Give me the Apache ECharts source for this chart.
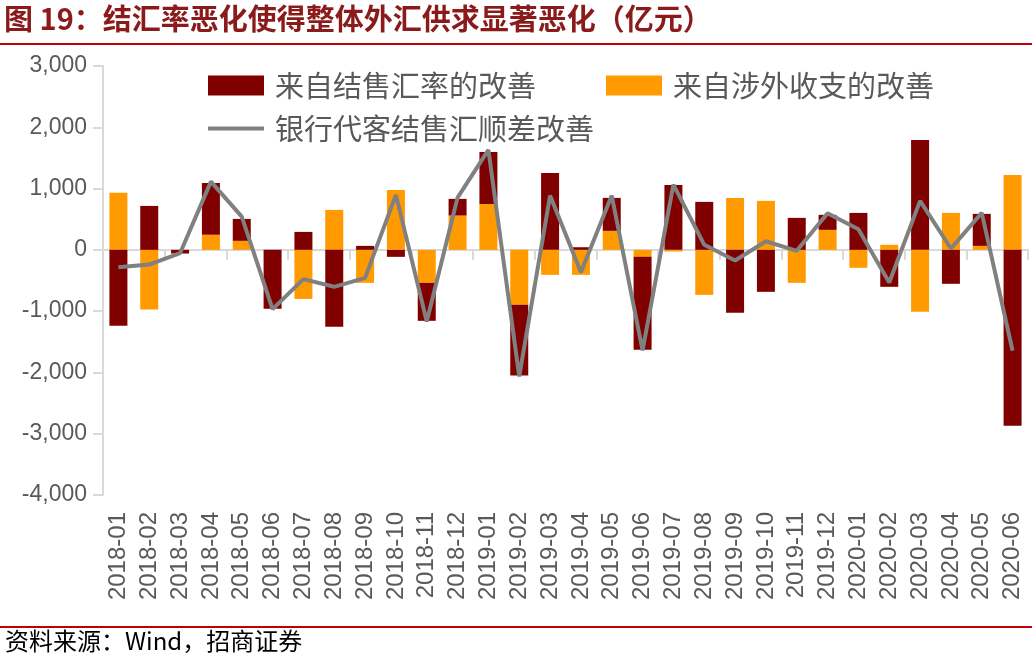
<!DOCTYPE html>
<html>
<head>
<meta charset="utf-8">
<script src="https://cdn.jsdelivr.net/npm/echarts@6/dist/echarts.min.js"></script>
<style>
  html, body { margin: 0; padding: 0; background: #fff; }
  #chart { width: 1032px; height: 660px; }
</style>
</head>
<body>
<div id="chart"></div>
<script>
// categories
var months = ['2018-01', '2018-02', '2018-03', '2018-04', '2018-05', '2018-06', '2018-07', '2018-08', '2018-09', '2018-10',
    '2018-11', '2018-12', '2019-01', '2019-02', '2019-03', '2019-04', '2019-05', '2019-06', '2019-07', '2019-08',
    '2019-09', '2019-10', '2019-11', '2019-12', '2020-01', '2020-02', '2020-03', '2020-04', '2020-05', '2020-06'];

// 来自结售汇率的改善
var rateImprove = [-1240, 717, -60, 847, 358, -962, 293, -1255, 65, -114,
    -620, 272, 848, -1152, 1255, 43, 538, -1516, 1060, 783,
    -1027, -685, 522, 245, 603, -603, 1793, -554, 522, -2870];

// 来自涉外收支的改善
var flowImprove = [930, -975, 0, 245, 147, 0, -800, 652, -538, 978,
    -538, 560, 750, -897, -408, -408, 310, -114, -27, -734,
    848, 799, -538, 326, -293, 82, -1011, 603, 65, 1223];

// 银行代客结售汇顺差改善
var surplusImprove = [-283, -239, -54, 1114, 543, -967, -478, -603, -457, 897,
    -1168, 853, 1630, -2065, 886, -364, 886, -1641, 1065, 82,
    -174, 141, -16, 598, 337, -533, 799, 22, 603, -1647];

var yTicks = {min: -4000, max: 3000, step: 1000};

var chart = echarts.init(document.getElementById('chart'));
var grey = '#595959';
var axisGrey = '#d9d9d9';

var option = {
    animation: false,
    textStyle: {fontFamily: 'Liberation Sans, Noto Sans CJK SC, sans-serif'},
    graphic: [
        {
            type: 'text', left: 4, top: 4,
            style: {
                text: '图 19：结汇率恶化使得整体外汇供求显著恶化（亿元）',
                fill: '#8b1a1a', fontSize: 29, fontWeight: 'bold',
                fontFamily: 'Noto Sans CJK SC'
            }
        },
        {type: 'rect', shape: {x: 0, y: 43, width: 1032, height: 2}, style: {fill: '#c00000'}},
        {type: 'rect', shape: {x: 0, y: 626, width: 1032, height: 2}, style: {fill: '#c00000'}},
        {
            type: 'text', left: 5, top: 629,
            style: {
                text: '资料来源：Wind，招商证券',
                fill: '#000', fontSize: 24,
                fontFamily: 'Noto Sans CJK SC'
            }
        }
    ],
    legend: [
        {
            left: 203, top: 66,
            itemWidth: 56, itemHeight: 20, itemGap: 70,
            icon: 'rect',
            data: ['来自结售汇率的改善', '来自涉外收支的改善'],
            textStyle: {color: grey, fontSize: 29, fontFamily: 'Noto Sans CJK SC', padding: [0, 0, 0, 6]}
        },
        {
            left: 203, top: 109,
            itemWidth: 56, itemHeight: 4,
            icon: 'rect',
            data: ['银行代客结售汇顺差改善'],
            textStyle: {color: grey, fontSize: 29, fontFamily: 'Noto Sans CJK SC', padding: [0, 0, 0, 6]}
        }
    ],
    grid: {left: 103, right: 4, top: 66, bottom: 165},
    xAxis: [
        {
            type: 'category',
            data: months,
            position: 'bottom',
            axisLine: {onZero: true, lineStyle: {color: axisGrey, width: 2}},
            axisTick: {show: true, length: 10, lineStyle: {color: axisGrey, width: 2}},
            axisLabel: {show: false}
        },
        {
            type: 'category',
            data: months,
            position: 'bottom',
            axisLine: {show: false, onZero: false},
            axisTick: {show: false},
            axisLabel: {rotate: 90, color: grey, fontSize: 24, margin: 17, interval: 0}
        }
    ],
    yAxis: {
        type: 'value',
        min: yTicks.min, max: yTicks.max, interval: yTicks.step,
        axisLine: {show: true, lineStyle: {color: axisGrey, width: 2}},
        axisTick: {show: true, length: 10, lineStyle: {color: axisGrey, width: 2}},
        splitLine: {show: false},
        axisLabel: {
            color: grey, fontSize: 23, margin: 16,
            formatter: function (v) {
                return v.toLocaleString('en-US');
            }
        }
    },
    series: [
        {
            name: '来自涉外收支的改善',
            type: 'bar', stack: 'total',
            barWidth: 18,
            itemStyle: {color: '#ff9a00'},
            data: flowImprove
        },
        {
            name: '来自结售汇率的改善',
            type: 'bar', stack: 'total',
            barWidth: 18,
            itemStyle: {color: '#800000'},
            data: rateImprove
        },
        {
            name: '银行代客结售汇顺差改善',
            type: 'line',
            showSymbol: false,
            symbol: 'none',
            lineStyle: {color: '#808080', width: 4},
            itemStyle: {color: '#808080'},
            data: surplusImprove,
            z: 5
        }
    ]
};

chart.setOption(option);
</script>
</body>
</html>
